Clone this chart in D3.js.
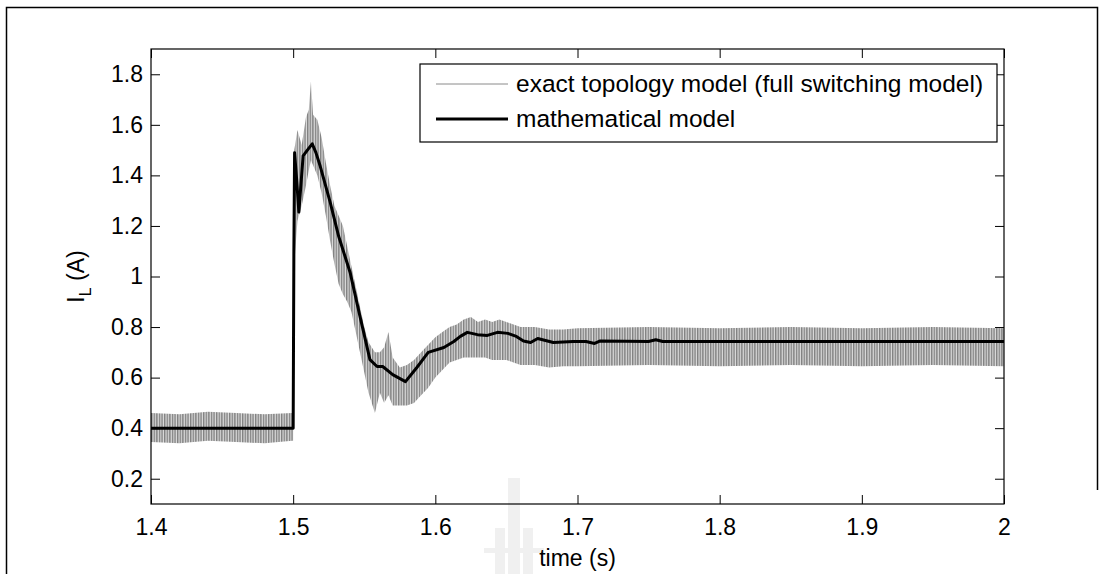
<html>
  <head>
    <meta charset="utf-8">
    <style>
body { margin: 0; background: #fff; }
text { font-family: "Liberation Sans", Arial, sans-serif; fill: #000; }
.axis path { display: none; }
.axis line { stroke: #000; }
    </style>
    <script src="https://d3js.org/d3.v7.min.js"></script>
  </head>
  <body>
    <svg width="1105" height="574"></svg>
    <script>

// time axis ticks
var xTicks = [1.4, 1.5, 1.6, 1.7, 1.8, 1.9, 2.0];
var xTickLabels = ["1.4", "1.5", "1.6", "1.7", "1.8", "1.9", "2"];
var yTicks = [0.2, 0.4, 0.6, 0.8, 1.0, 1.2, 1.4, 1.6, 1.8];
var yTickLabels = ["0.2", "0.4", "0.6", "0.8", "1", "1.2", "1.4", "1.6", "1.8"];

// exact topology model: switching ripple, read as upper / lower envelope
var exactT = [1.400, 1.420, 1.440, 1.460, 1.480, 1.4995, 1.5000, 1.5008, 1.503, 1.506,
              1.509, 1.511, 1.5125, 1.514, 1.517, 1.520, 1.523, 1.526, 1.529, 1.532,
              1.535, 1.538, 1.541, 1.544, 1.547, 1.550, 1.553, 1.5575, 1.561, 1.564,
              1.567, 1.570, 1.575, 1.580, 1.585, 1.590, 1.595, 1.600, 1.605, 1.610,
              1.615, 1.620, 1.625, 1.630, 1.635, 1.640, 1.645, 1.650, 1.655, 1.660,
              1.670, 1.680, 1.690, 1.700, 1.750, 1.800, 1.850, 1.900, 1.950, 2.000];
var exactHi = [0.460, 0.455, 0.465, 0.460, 0.455, 0.460, 0.460, 1.50, 1.58, 1.52,
               1.63, 1.66, 1.77, 1.64, 1.62, 1.55, 1.45, 1.36, 1.28, 1.24,
               1.20, 1.12, 1.04, 0.96, 0.88, 0.80, 0.74, 0.70, 0.70, 0.72,
               0.78, 0.68, 0.64, 0.65, 0.67, 0.70, 0.73, 0.76, 0.78, 0.80,
               0.81, 0.83, 0.84, 0.82, 0.83, 0.82, 0.83, 0.82, 0.81, 0.80,
               0.80, 0.79, 0.79, 0.795, 0.80, 0.795, 0.80, 0.795, 0.80, 0.795];
var exactLo = [0.345, 0.340, 0.350, 0.345, 0.340, 0.350, 0.350, 1.05, 1.22, 1.28,
               1.36, 1.42, 1.46, 1.44, 1.40, 1.33, 1.24, 1.14, 1.05, 0.97,
               0.93, 0.90, 0.86, 0.78, 0.70, 0.62, 0.54, 0.46, 0.54, 0.50,
               0.53, 0.49, 0.49, 0.49, 0.50, 0.53, 0.56, 0.60, 0.63, 0.66,
               0.67, 0.68, 0.68, 0.68, 0.68, 0.67, 0.67, 0.67, 0.66, 0.65,
               0.65, 0.64, 0.645, 0.645, 0.65, 0.645, 0.65, 0.645, 0.65, 0.645];

// mathematical model
var mathT = [1.400, 1.500, 1.5005, 1.501, 1.5025, 1.504, 1.507, 1.510, 1.5134, 1.516,
             1.519, 1.526, 1.532, 1.540, 1.547, 1.554, 1.559, 1.563, 1.570, 1.579,
             1.587, 1.595, 1.606, 1.613, 1.6176, 1.6225, 1.6296, 1.6366, 1.6437, 1.651,
             1.657, 1.662, 1.667, 1.672, 1.683, 1.697, 1.706, 1.712, 1.716, 1.750,
             1.755, 1.760, 2.000];
var mathI = [0.400, 0.400, 1.10, 1.49, 1.38, 1.255, 1.477, 1.50, 1.525, 1.49,
             1.437, 1.294, 1.159, 1.017, 0.842, 0.671, 0.644, 0.644, 0.612, 0.584,
             0.640, 0.700, 0.719, 0.743, 0.763, 0.779, 0.770, 0.767, 0.779, 0.775,
             0.763, 0.745, 0.739, 0.755, 0.739, 0.743, 0.743, 0.735, 0.745, 0.743,
             0.750, 0.743, 0.743];

var legendLabels = ["exact topology model (full switching model)", "mathematical model"];

var svg = d3.select("svg"),
    margin = {top: 49, right: 101, bottom: 70, left: 151},
    width = +svg.attr("width") - margin.left - margin.right,
    height = +svg.attr("height") - margin.top - margin.bottom;

// outer figure frame
svg.append("path")
  .attr("d", "M6.5,574V7.5H1097.5V490")
  .attr("fill", "none")
  .attr("stroke", "#000")
  .attr("stroke-width", 1.5);

// faint watermark at bottom
var wm = svg.append("g").attr("fill", "#f0f0f0");
wm.append("rect").attr("x", 508).attr("y", 478).attr("width", 12).attr("height", 96);
wm.append("rect").attr("x", 495).attr("y", 528).attr("width", 10).attr("height", 46);
wm.append("rect").attr("x", 523).attr("y", 528).attr("width", 10).attr("height", 46);
wm.append("rect").attr("x", 484).attr("y", 548).attr("width", 60).attr("height", 5);

var x = d3.scaleLinear().domain([1.4, 2.0]).range([0, width]),
    y = d3.scaleLinear().domain([0.1, 1.9]).range([height, 0]);

var g = svg.append("g")
  .attr("transform", "translate(" + margin.left + "," + margin.top + ")");

// stripe pattern for the switching ripple band
var pat = svg.append("defs").append("pattern")
  .attr("id", "ripple")
  .attr("patternUnits", "userSpaceOnUse")
  .attr("width", 2.6).attr("height", 10);
pat.append("rect").attr("width", 2.6).attr("height", 10).attr("fill", "#dcdcdc");
pat.append("rect").attr("width", 1.4).attr("height", 10).attr("fill", "#808080");

var exact = exactT.map(function(t, i) { return {t: t, hi: exactHi[i], lo: exactLo[i]}; });
var math = mathT.map(function(t, i) { return {t: t, v: mathI[i]}; });

g.append("path")
  .datum(exact)
  .attr("fill", "url(#ripple)")
  .attr("d", d3.area()
    .x(function(d) { return x(d.t); })
    .y0(function(d) { return y(d.lo); })
    .y1(function(d) { return y(d.hi); }));

g.append("path")
  .datum(math)
  .attr("fill", "none")
  .attr("stroke", "#000")
  .attr("stroke-width", 3)
  .attr("stroke-linejoin", "round")
  .attr("d", d3.line()
    .x(function(d) { return x(d.t); })
    .y(function(d) { return y(d.v); }));

// axes box
g.append("rect")
  .attr("width", width).attr("height", height)
  .attr("fill", "none").attr("stroke", "#000").attr("stroke-width", 1.2);

g.append("g")
  .attr("class", "axis")
  .attr("transform", "translate(0," + height + ")")
  .call(d3.axisBottom(x).tickValues(xTicks)
    .tickFormat(function(d, i) { return xTickLabels[i]; })
    .tickSizeInner(-9).tickSizeOuter(0).tickPadding(15))
  .selectAll("text").style("font-size", "23px");

g.append("g")
  .attr("class", "axis")
  .call(d3.axisTop(x).tickValues(xTicks).tickFormat("")
    .tickSizeInner(-9).tickSizeOuter(0));

g.append("g")
  .attr("class", "axis")
  .call(d3.axisLeft(y).tickValues(yTicks)
    .tickFormat(function(d, i) { return yTickLabels[i]; })
    .tickSizeInner(-9).tickSizeOuter(0).tickPadding(8))
  .selectAll("text").style("font-size", "23px");

g.append("g")
  .attr("class", "axis")
  .attr("transform", "translate(" + width + ",0)")
  .call(d3.axisRight(y).tickValues(yTicks).tickFormat("")
    .tickSizeInner(-9).tickSizeOuter(0));

// legend
var lg = svg.append("g").attr("transform", "translate(420,64)");
lg.append("rect")
  .attr("width", 577).attr("height", 78)
  .attr("fill", "#fff").attr("stroke", "#000").attr("stroke-width", 1.2);
lg.append("line").attr("x1", 16).attr("x2", 88).attr("y1", 20).attr("y2", 20)
  .attr("stroke", "#8a8a8a").attr("stroke-width", 1);
lg.append("line").attr("x1", 16).attr("x2", 88).attr("y1", 55).attr("y2", 55)
  .attr("stroke", "#000").attr("stroke-width", 3);
lg.selectAll("text.lbl")
  .data(legendLabels)
  .enter().append("text")
  .attr("class", "lbl")
  .attr("x", 96)
  .attr("y", function(d, i) { return 28 + i * 35; })
  .style("font-size", "24.5px")
  .text(function(d) { return d; });

// axis labels
svg.append("text")
  .attr("x", margin.left + width / 2)
  .attr("y", 566)
  .style("text-anchor", "middle")
  .style("font-size", "23px")
  .text("time (s)");

var yl = svg.append("text")
  .attr("transform", "translate(84," + (margin.top + height / 2) + ") rotate(-90)")
  .style("text-anchor", "middle")
  .style("font-size", "23px");
yl.append("tspan").text("I");
yl.append("tspan").attr("dy", 7).style("font-size", "16px").text("L");
yl.append("tspan").attr("dy", -7).text(" (A)");

    </script>
  </body>
</html>
